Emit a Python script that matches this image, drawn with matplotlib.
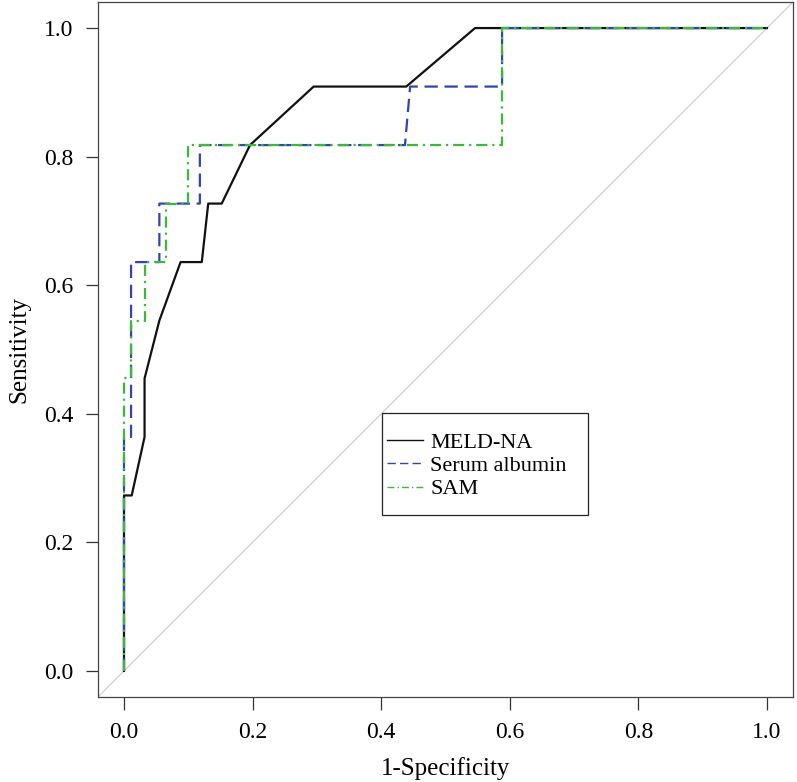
import matplotlib
matplotlib.use("Agg")
import matplotlib.pyplot as plt
from matplotlib.patches import Rectangle

plt.rcParams['font.family'] = ['Liberation Serif', 'DejaVu Serif']

# MELD-NA ROC
meld_fpr = [0, 0, 0.012, 0.032, 0.032, 0.055, 0.088, 0.121, 0.131, 0.152, 0.196, 0.295, 0.439, 0.546, 1.0]
meld_tpr = [0, 0.273, 0.273, 0.364, 0.455, 0.545, 0.636, 0.636, 0.727, 0.727, 0.818, 0.909, 0.909, 1.0, 1.0]

# Serum albumin ROC
alb_fpr = [0, 0, 0.011, 0.011, 0.055, 0.055, 0.118, 0.118, 0.437, 0.445, 0.588, 0.588, 1.0]
alb_tpr = [0, 0.364, 0.364, 0.636, 0.636, 0.727, 0.727, 0.818, 0.818, 0.909, 0.909, 1.0, 1.0]

# SAM ROC
sam_fpr = [0, 0, 0.011, 0.011, 0.032, 0.032, 0.065, 0.065, 0.099, 0.099, 0.588, 0.588, 1.0]
sam_tpr = [0, 0.455, 0.455, 0.545, 0.545, 0.636, 0.636, 0.727, 0.727, 0.818, 0.818, 1.0, 1.0]

labels = ["MELD-NA", "Serum albumin", "SAM"]
ticks = [0.0, 0.2, 0.4, 0.6, 0.8, 1.0]
tick_labels = ["0.0", "0.2", "0.4", "0.6", "0.8", "1.0"]

W, H = 797, 782
fig = plt.figure(figsize=(W / 100, H / 100), dpi=100)
ax = fig.add_axes([0.1233, 0.1091, 0.8713, 0.8879])

ax.set_xlim(-0.04, 1.04)
ax.set_ylim(-0.04, 1.04)

ax.axline((0, 0), slope=1, color='#cfcfcf', lw=0.9, zorder=1)

ax.plot(meld_fpr, meld_tpr, color='#111111', lw=1.6, label=labels[0], zorder=3)
ax.plot(alb_fpr, alb_tpr, color='#3344aa', lw=1.6, dashes=(6, 3), label=labels[1], zorder=4)
ax.plot(sam_fpr, sam_tpr, color='#3db83d', lw=1.6, dashes=(5, 2.2, 1, 2.2), label=labels[2], zorder=5)

ax.set_xticks(ticks)
ax.set_xticklabels(tick_labels)
ax.set_yticks(ticks)
ax.set_yticklabels(tick_labels)
ax.tick_params(direction='out', length=9, width=0.9, color='#333333',
               labelsize=17, pad=9)
for s in ax.spines.values():
    s.set_color('#444444')
    s.set_linewidth(0.9)

ax.set_xlabel("1-Specificity", fontsize=18, labelpad=10)
ax.set_ylabel("Sensitivity", fontsize=18, labelpad=10)

# legend frame (pixel box converted to figure coords)
x0, y0, x1, y1 = 382, 413, 588, 515
fig.patches.append(Rectangle((x0 / W, 1 - y1 / H), (x1 - x0) / W, (y1 - y0) / H,
                             transform=fig.transFigure, fill=True, facecolor='white',
                             edgecolor='#222222', lw=0.9, zorder=10))

leg = fig.legend(*ax.get_legend_handles_labels(), loc='upper left',
                 bbox_to_anchor=(387 / W, 1 - 432 / H), borderaxespad=0,
                 fontsize=16, frameon=False,
                 handlelength=1.62, handletextpad=0.32, labelspacing=0.13,
                 borderpad=0)
leg.set_zorder(11)
for h in leg.get_lines():
    h.set_linewidth(1.0)

fig.savefig("out.png", dpi=100)
